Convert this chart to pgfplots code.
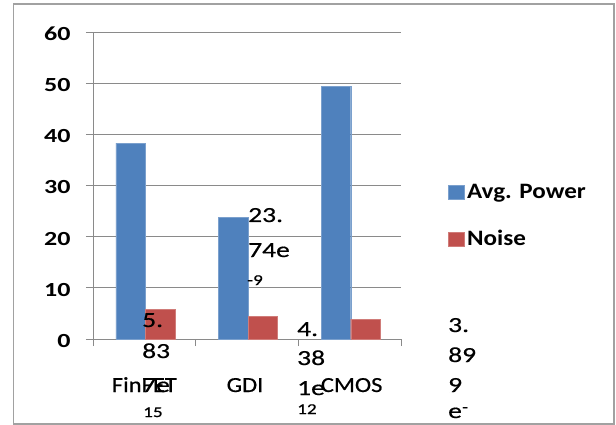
\documentclass[border=0pt]{standalone}
\usepackage{fontspec}
\usepackage{pgfplots}
\pgfplotsset{compat=1.18}
\setmainfont{Carlito}[FakeStretch=1.14]
\newfontfamily\numfont{Carlito}[FakeStretch=1.3]
\newfontfamily\valfont{Carlito}[FakeStretch=1.28, FakeBold=0.6]
\newfontfamily\namefont{Carlito}[FakeStretch=1.14, FakeBold=0.5]

\definecolor{powerblue}{HTML}{4F81BD}
\definecolor{noisered}{HTML}{C0504D}
\definecolor{gridgrey}{HTML}{8A8A8A}

\newcommand\lblfont{\valfont\fontsize{21.5}{21.5}\selectfont}
\newcommand\smlfont{\valfont\fontsize{15}{15}\selectfont}
\newcommand\catfont{\namefont\fontsize{21.5}{21.5}\selectfont}

\begin{document}
\begin{tikzpicture}
\useasboundingbox (0pt,0pt) rectangle (616pt,-425pt);
% frame round the whole chart
\draw[gridgrey!80, line width=1.5pt] (13.5pt,-4pt) rectangle (614pt,-424pt);

\begin{axis}[
  scale only axis, width=308pt, height=307pt,
  anchor=south west, at={(93pt,-339pt)},
  xmin=-0.5, xmax=2.5, ymin=0, ymax=60,
  axis x line=bottom, axis y line=left,
  axis line style={gridgrey, line width=1pt, -},
  ytick={0,10,...,60}, ymajorgrids,
  grid style={gridgrey, line width=1pt},
  xtick={-0.5,0.5,1.5,2.5}, xticklabels={},
  tick align=outside, major tick length=7pt,
  tick style={gridgrey, line width=1pt},
  /pgf/number format/assume math mode=true,
  yticklabel style={font=\numfont\bfseries\fontsize{20}{20}\selectfont,
    anchor=east, xshift=-12pt, yshift=-2pt},
  clip=false,
  legend style={draw=none, fill=none, at={(1.143,0.525)}, anchor=north west,
    font=\bfseries\fontsize{22}{22}\selectfont, row sep=22pt,
    nodes={inner sep=3pt, text height=15pt, text depth=4pt}},
  legend cell align=left,
  legend image code/.code={\fill[#1] (0pt,-7pt) rectangle (15.5pt,7pt);},
]
\addplot[ybar, bar width=29.5pt, bar shift=-13.7pt, fill=powerblue, draw=powerblue!75!white]
  coordinates {(0,38.3) (1,23.74) (2,49.4)};
\addplot[ybar, bar width=29.5pt, bar shift=15.8pt, fill=noisered, draw=noisered!75!white]
  coordinates {(0,5.837) (1,4.381) (2,3.899)};
\legend{Avg. Power, Noise}

% category names
\node[anchor=base, inner sep=0pt, font=\catfont] at ([yshift=-53pt]axis cs:0,0) {FinFET};
\node[anchor=base, inner sep=0pt, font=\catfont] at ([yshift=-53pt,xshift=-2pt]axis cs:1,0) {GDI};
\node[anchor=base, inner sep=0pt, font=\catfont] at ([yshift=-53pt,xshift=2pt]axis cs:2,0) {CMOS};
\end{axis}

% value labels, wrapped in narrow boxes
\begin{scope}[every node/.style={anchor=base west, inner sep=0pt, font=\lblfont}]
  % 5.837e-15
  \node at (142pt,-327pt) {5.};
  \node at (142pt,-358pt) {83};
  \node at (142pt,-392pt) {7e};
  \node[font=\smlfont] at (143pt,-417pt) {15};
  % 23.74e-9
  \node at (248pt,-222pt) {23.};
  \node at (248pt,-257pt) {74e};
  \node[font=\smlfont] at (247pt,-285pt) {-9};
  % 4.381e-12
  \node at (297pt,-336pt) {4.};
  \node at (297pt,-365pt) {38};
  \node at (297pt,-395pt) {1e};
  \node[font=\smlfont] at (297pt,-414pt) {12};
  % 3.899e-
  \node at (448pt,-332pt) {3.};
  \node at (448pt,-362pt) {89};
  \node at (448pt,-392pt) {9};
  \node at (448pt,-418pt) {e};
  \node[font=\smlfont] at (462pt,-412pt) {-};
\end{scope}
\end{tikzpicture}
\end{document}
